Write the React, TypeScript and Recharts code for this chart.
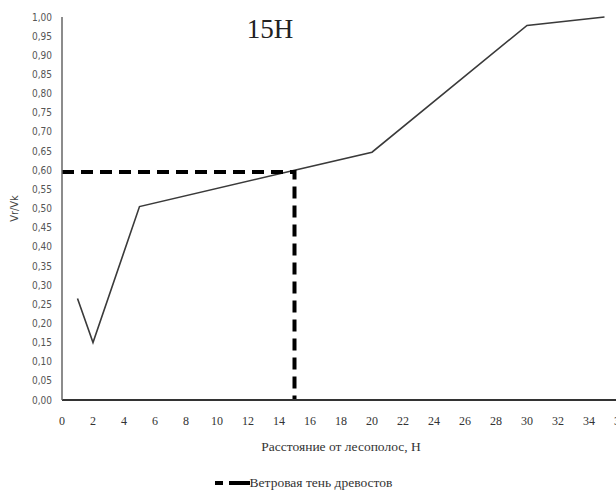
import React from 'react';
import { LineChart, Line, XAxis, YAxis, Legend } from 'recharts';

const distances = [1, 2, 5, 15, 20, 30, 35];
const ratios = [0.265, 0.15, 0.505, 0.6, 0.647, 0.978, 1.0];

const shadowX = [0, 15, 15];
const shadowY = [0.595, 0.595, 0];

const xTicks = [0, 2, 4, 6, 8, 10, 12, 14, 16, 18, 20, 22, 24, 26, 28, 30, 32, 34, 36];
const yTicks = [0, 0.05, 0.1, 0.15, 0.2, 0.25, 0.3, 0.35, 0.4, 0.45, 0.5, 0.55, 0.6, 0.65, 0.7, 0.75, 0.8, 0.85, 0.9, 0.95, 1.0];

const title = '15H';
const xLabel = 'Расстояние от лесополос, Н';
const yLabel = 'Vr/Vk';
const shadowName = 'Ветровая тень древостов';

const mainData = distances.map((x, i) => ({ x, v: ratios[i] }));
const shadowData = shadowX.map((x, i) => ({ x, s: shadowY[i] }));

const serif = "Liberation Serif, DejaVu Serif, serif";
const narrow = "Liberation Sans Narrow, DejaVu Sans Condensed, Liberation Sans, sans-serif";

const LegendContent = () => (
  <div style={{ height: 16, display: 'flex', alignItems: 'center', justifyContent: 'center', paddingRight: 14 }}>
    <svg width={36} height={16}>
      <line x1={1} y1={8} x2={36} y2={8} stroke="#000" strokeWidth={4} strokeDasharray="8 6 22" />
    </svg>
    <span style={{ fontFamily: serif, fontSize: 13.5, color: '#333' }}>{shadowName}</span>
  </div>
);

export default function App() {
  return (
    <div style={{ position: 'fixed', left: 0, top: 0, width: 616, height: 495, overflow: 'hidden', background: '#fff' }}>
      <LineChart width={640} height={495} margin={{ top: 17, right: 20, left: 0, bottom: 4 }}>
        <XAxis
          type="number"
          dataKey="x"
          domain={[0, 36]}
          ticks={xTicks}
          allowDuplicatedCategory={false}
          tickLine={false}
          tickMargin={10}
          axisLine={{ stroke: '#333', strokeWidth: 2 }}
          tick={{ fontFamily: serif, fontSize: 12, fill: '#333' }}
          height={75}
          interval={0}
          label={{ value: xLabel, position: 'insideBottom', offset: 24, style: { fontFamily: serif, fontSize: 13.5, fill: '#333' } }}
        />
        <YAxis
          type="number"
          domain={[0, 1]}
          ticks={yTicks}
          interval={0}
          width={62}
          tickLine={false}
          tickMargin={4}
          axisLine={{ stroke: '#666', strokeWidth: 1.5 }}
          tick={{ fontFamily: narrow, fontSize: 10, fill: '#555' }}
          tickFormatter={(v: number) => v.toFixed(2).replace('.', ',')}
          label={{ value: yLabel, angle: -90, position: 'insideLeft', offset: 14, style: { fontFamily: narrow, fontSize: 11, fill: '#444', textAnchor: 'middle' } }}
        />
        <Legend verticalAlign="bottom" height={16} content={<LegendContent />} />
        <Line
          data={mainData}
          dataKey="v"
          type="linear"
          stroke="#3a3a3a"
          strokeWidth={1.6}
          dot={false}
          legendType="none"
          isAnimationActive={false}
        />
        <Line
          data={shadowData}
          dataKey="s"
          name={shadowName}
          type="linear"
          stroke="#000"
          strokeWidth={4}
          strokeDasharray="12 7"
          dot={false}
          isAnimationActive={false}
        />
      </LineChart>
      <div style={{ position: 'absolute', left: 240, top: 14, width: 60, textAlign: 'center', fontFamily: serif, fontSize: 27, color: '#222' }}>{title}</div>
    </div>
  );
}
